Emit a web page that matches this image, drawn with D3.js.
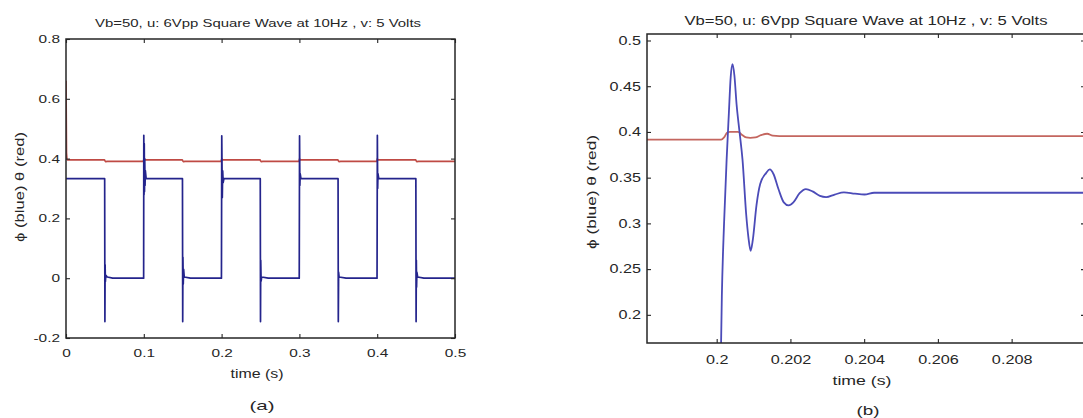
<!DOCTYPE html>
<html>
<head>
<meta charset="utf-8">
<script src="https://cdn.jsdelivr.net/npm/d3@7"></script>
<style>
  html, body { margin: 0; padding: 0; background: #fff; }
  svg { display: block; font-family: "Liberation Sans", Arial, sans-serif; }
</style>
</head>
<body>
<svg id="fig" width="1083" height="418"></svg>
<script>
// ---------------- labels ----------------
const titleText = "Vb=50, u: 6Vpp Square Wave at 10Hz , v: 5 Volts";
const yLabelText = "ϕ (blue) θ (red)";
const xLabelText = "time (s)";

// ---------------- panel (a): 0 – 0.5 s ----------------
const aXTicks = [0, 0.1, 0.2, 0.3, 0.4, 0.5];
const aXTickLabels = ["0", "0.1", "0.2", "0.3", "0.4", "0.5"];
const aYTicks = [-0.2, 0, 0.2, 0.4, 0.6, 0.8];
const aYTickLabels = ["-0.2", "0", "0.2", "0.4", "0.6", "0.8"];

// phi (blue): [time, value]
const aPhi = [
  [0, 0.333], [0.0497, 0.333], [0.0500, -0.145], [0.0503, 0.045], [0.0506, -0.012], [0.0512, 0.010], [0.0530, 0.004], [0.0600, 0],
  [0.0998, 0], [0.1000, 0.478], [0.1003, 0.280], [0.1006, 0.450], [0.1009, 0.290], [0.1012, 0.400], [0.1016, 0.310], [0.1020, 0.360], [0.1030, 0.333],
  [0.1497, 0.333], [0.1500, -0.145], [0.1503, 0.070], [0.1507, -0.020], [0.1512, 0.030], [0.1520, 0.004], [0.1600, 0],
  [0.1998, 0], [0.2002, 0.476], [0.2009, 0.270], [0.2014, 0.359], [0.2020, 0.320], [0.2030, 0.333],
  [0.2497, 0.333], [0.2500, -0.145], [0.2503, 0.060], [0.2508, -0.010], [0.2515, 0.004], [0.2600, 0],
  [0.2998, 0], [0.3002, 0.476], [0.3006, 0.310], [0.3010, 0.350], [0.3020, 0.333],
  [0.3497, 0.333], [0.3500, -0.145], [0.3504, 0.020], [0.3510, 0.004], [0.3600, 0],
  [0.3998, 0], [0.4002, 0.478], [0.4006, 0.300], [0.4010, 0.350], [0.4020, 0.333],
  [0.4497, 0.333], [0.4500, -0.145], [0.4503, 0.060], [0.4506, -0.030], [0.4510, 0.020], [0.4520, 0.004], [0.4600, 0],
  [0.5000, 0]
];

// theta (red): [time, value]
const aTheta = [
  [0, 0.660], [0.0006, 0.420], [0.0012, 0.398], [0.0020, 0.396],
  [0.0495, 0.396], [0.0502, 0.392], [0.0510, 0.390], [0.0530, 0.391],
  [0.0995, 0.391], [0.1002, 0.399], [0.1008, 0.395], [0.1015, 0.396],
  [0.1495, 0.396], [0.1502, 0.392], [0.1510, 0.390], [0.1530, 0.391],
  [0.1995, 0.391], [0.2002, 0.399], [0.2008, 0.395], [0.2015, 0.396],
  [0.2495, 0.396], [0.2502, 0.392], [0.2510, 0.390], [0.2530, 0.391],
  [0.2995, 0.391], [0.3002, 0.399], [0.3008, 0.395], [0.3015, 0.396],
  [0.3495, 0.396], [0.3502, 0.392], [0.3510, 0.390], [0.3530, 0.391],
  [0.3995, 0.391], [0.4002, 0.399], [0.4008, 0.395], [0.4015, 0.396],
  [0.4495, 0.396], [0.4502, 0.392], [0.4510, 0.390], [0.4530, 0.391],
  [0.5000, 0.391]
];

// ---------------- panel (b): rising edge at 0.2 s ----------------
const bXTicks = [0.2, 0.202, 0.204, 0.206, 0.208];
const bXTickLabels = ["0.2", "0.202", "0.204", "0.206", "0.208"];
const bYTicks = [0.2, 0.25, 0.3, 0.35, 0.4, 0.45, 0.5];
const bYTickLabels = ["0.2", "0.25", "0.3", "0.35", "0.4", "0.45", "0.5"];

const bPhi = [
  [0.19811, 0], [0.20000, 0], [0.20010, 0.120], [0.20014, 0.220], [0.20020, 0.300],
  [0.20027, 0.370], [0.20033, 0.420], [0.20038, 0.460], [0.20043, 0.474], [0.20048, 0.462],
  [0.20054, 0.430], [0.20062, 0.400], [0.20070, 0.370], [0.20080, 0.310], [0.20086, 0.285],
  [0.20092, 0.270], [0.20098, 0.282], [0.20108, 0.320], [0.20118, 0.343], [0.20134, 0.355],
  [0.20144, 0.359], [0.20154, 0.354], [0.20168, 0.337], [0.20182, 0.323], [0.20195, 0.3197],
  [0.20208, 0.323], [0.20225, 0.333], [0.20242, 0.3375], [0.20260, 0.335], [0.20280, 0.330],
  [0.20297, 0.3287], [0.20320, 0.3315], [0.20345, 0.334], [0.20375, 0.3325], [0.20401, 0.3316],
  [0.20427, 0.3335], [0.21000, 0.3335]
];

const bTheta = [
  [0.19811, 0.3915], [0.20012, 0.3915], [0.20020, 0.394], [0.20028, 0.399], [0.20036, 0.400],
  [0.20058, 0.400], [0.20068, 0.397], [0.20080, 0.394], [0.20091, 0.3935], [0.20105, 0.394],
  [0.20120, 0.3965], [0.20137, 0.398], [0.20152, 0.396], [0.20170, 0.3955], [0.21000, 0.3955]
];

// ---------------- drawing ----------------
const svg = d3.select("#fig");
const ink = "#262626";

function drawPanel(o) {
  const g = svg.append("g");
  const x = d3.scaleLinear().domain(o.xDomain).range([o.left, o.right]);
  const y = d3.scaleLinear().domain(o.yDomain).range([o.bottom, o.top]);

  svg.append("clipPath").attr("id", o.id + "-clip")
    .append("rect")
    .attr("x", o.left).attr("y", o.top)
    .attr("width", o.right - o.left).attr("height", o.bottom - o.top);

  const line = d3.line().x(d => x(d[0])).y(d => y(d[1])).curve(o.curve);
  const plot = g.append("g").attr("clip-path", `url(#${o.id}-clip)`);
  plot.append("path").datum(o.theta)
    .attr("fill", "none").attr("stroke", o.red).attr("stroke-width", o.lw)
    .attr("stroke-linejoin", "round").attr("d", line);
  plot.append("path").datum(o.phi)
    .attr("fill", "none").attr("stroke", o.blue).attr("stroke-width", o.lw)
    .attr("stroke-linejoin", "round").attr("d", line);

  const lab = (ticks, labels) => d => labels[ticks.findIndex(t => Math.abs(t - d) < 1e-9)];

  // bottom axis with labels, ticks pointing inward
  const gb = g.append("g").attr("transform", `translate(0,${o.bottom})`)
    .call(d3.axisBottom(x).tickValues(o.xTicks).tickFormat(lab(o.xTicks, o.xTickLabels))
      .tickSizeInner(-o.tick).tickSizeOuter(0).tickPadding(o.xPad));
  gb.selectAll(".tick text").attr("transform", `scale(${o.sx},1)`);

  // left axis with labels
  const gl = g.append("g").attr("transform", `translate(${o.left},0)`)
    .call(d3.axisLeft(y).tickValues(o.yTicks).tickFormat(lab(o.yTicks, o.yTickLabels))
      .tickSizeInner(-o.tick).tickSizeOuter(0).tickPadding(o.yPad));
  gl.selectAll(".tick text").attr("x", -o.yPad / o.sx).attr("transform", `scale(${o.sx},1)`);

  // top and right: ticks only
  g.append("g").attr("transform", `translate(0,${o.top})`)
    .call(d3.axisTop(x).tickValues(o.xTicks).tickFormat("").tickSizeInner(-o.tick).tickSizeOuter(0));
  g.append("g").attr("transform", `translate(${o.right},0)`)
    .call(d3.axisRight(y).tickValues(o.yTicks).tickFormat("").tickSizeInner(-o.tick).tickSizeOuter(0));

  g.selectAll(".domain").remove();
  g.selectAll(".tick line").attr("stroke", ink).attr("stroke-width", 1.1);
  g.selectAll(".tick text").attr("fill", ink).attr("font-size", o.tickFont)
    .attr("font-family", "Liberation Sans, Arial, sans-serif");

  // axes box
  g.append("rect")
    .attr("x", o.left).attr("y", o.top)
    .attr("width", o.right - o.left).attr("height", o.bottom - o.top)
    .attr("fill", "none").attr("stroke", ink).attr("stroke-width", 1.5);

  // texts
  const t = (txt, xx, yy, size, len) => g.append("text")
    .attr("x", xx).attr("y", yy).attr("text-anchor", "middle")
    .attr("font-size", size).attr("fill", ink)
    .attr("textLength", len).attr("lengthAdjust", "spacingAndGlyphs").text(txt);

  t(titleText, o.titleX, o.titleY, o.titleFont, o.titleLen);
  t(xLabelText, o.xlabX, o.xlabY, o.labFont, o.xlabLen);
  t(o.tag, o.tagX, o.tagY, o.tagFont, o.tagLen);
  g.append("text")
    .attr("transform", `translate(${o.ylabX},${o.ylabY}) rotate(-90)`)
    .attr("text-anchor", "middle").attr("font-size", o.labFont).attr("fill", ink)
    .attr("textLength", o.ylabLen).attr("lengthAdjust", "spacingAndGlyphs")
    .text(yLabelText);
}

drawPanel({
  id: "pa", tag: "(a)",
  left: 66, right: 455, top: 39, bottom: 338,
  xDomain: [0, 0.5], yDomain: [-0.2, 0.8],
  xTicks: aXTicks, xTickLabels: aXTickLabels, yTicks: aYTicks, yTickLabels: aYTickLabels,
  phi: aPhi, theta: aTheta, curve: d3.curveLinear,
  blue: "#24248c", red: "#bf4a44", lw: 1.7,
  tick: 4, xPad: 11, yPad: 6, sx: 1.4, tickFont: 11,
  titleX: 258, titleY: 27, titleFont: 11.5, titleLen: 326,
  xlabX: 257, xlabY: 378, labFont: 12, xlabLen: 53,
  tagX: 262, tagY: 410, tagFont: 13, tagLen: 25,
  ylabX: 24, ylabY: 187, ylabLen: 110
});

drawPanel({
  id: "pb", tag: "(b)",
  left: 647, right: 1085, top: 34, bottom: 343,
  xDomain: [0.19811, 0.20999], yDomain: [0.1692, 0.5071],
  xTicks: bXTicks, xTickLabels: bXTickLabels, yTicks: bYTicks, yTickLabels: bYTickLabels,
  phi: bPhi, theta: bTheta, curve: d3.curveMonotoneX,
  blue: "#4b4bb8", red: "#c4665f", lw: 1.8,
  tick: 4, xPad: 12.5, yPad: 6, sx: 1.35, tickFont: 12,
  titleX: 866, titleY: 25, titleFont: 12, titleLen: 363,
  xlabX: 862, xlabY: 385, labFont: 12.5, xlabLen: 59,
  tagX: 868, tagY: 415, tagFont: 13, tagLen: 23,
  ylabX: 596, ylabY: 192, ylabLen: 114
});
</script>
</body>
</html>
